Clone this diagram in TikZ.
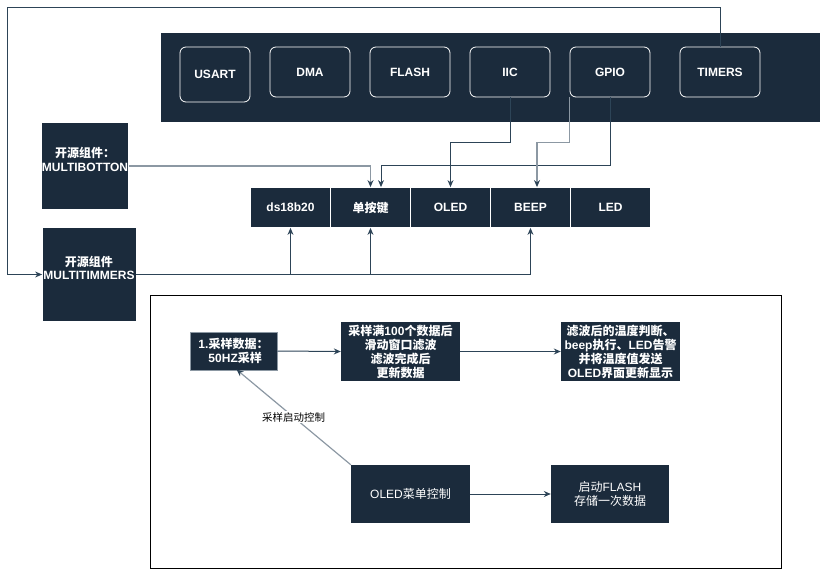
\documentclass[tikz,border=0pt]{standalone}
\usepackage{fontspec}
\setmainfont{Liberation Sans}
\newfontfamily\cjk{Noto Sans CJK SC}
\usetikzlibrary{arrows.meta}
\definecolor{navy}{HTML}{1B2B3C}
\definecolor{lnc}{HTML}{2D4457}
\definecolor{lgray}{HTML}{8C98A3}
\tikzset{
  panel/.style={fill=navy,draw=none,inner sep=0pt},
  rbox/.style={draw=white,fill=navy,rounded corners=6pt,text=white,font=\fontsize{12}{13}\selectfont\bfseries,minimum width=80pt,minimum height=50pt,inner sep=0pt,line width=0.8pt},
  dbox/.style={fill=navy,draw=white,text=white,font=\fontsize{12}{13.5}\selectfont\bfseries,inner sep=0pt,align=center,line width=0.8pt},
  fbox/.style={fill=navy,text=white,font=\fontsize{12}{14}\selectfont\bfseries,inner sep=0pt,align=center},
  conn/.style={draw=lnc,line width=1pt,-{Stealth[length=7pt,width=6pt]}},
  gconn/.style={draw=lgray,line width=1.2pt,-{Stealth[length=7pt,width=6pt,color=lnc]}},
  plain/.style={draw=lnc,line width=1pt}
}
\begin{document}
\begin{tikzpicture}[x=1pt,y=-1pt]
\useasboundingbox (0,0) rectangle (822,570);
% top panel
\node[panel,minimum width=659pt,minimum height=89pt] (panel) at (490.5,77.5) {};
\node[rbox,minimum width=70pt,minimum height=55pt] (usart) at (215,74.5) {USART};
\node[rbox] (dma) at (310,72) {DMA};
\node[rbox] (flash) at (410,72) {FLASH};
\node[rbox] (iic) at (510,72) {IIC};
\node[rbox] (gpio) at (610,72) {GPIO};
\node[rbox] (timers) at (720,72) {TIMERS};
% open source components
\node[dbox,draw=none,minimum width=86pt,minimum height=86pt] (mb) at (85,166) {{\cjk 开源组件：}\\MULTIBOTTON\\ \mbox{}};
\node[dbox,draw=none,minimum width=93pt,minimum height=93pt] (mt) at (89,274.5) {{\cjk 开源组件}\\MULTITIMMERS\\ \mbox{}};
% device row
\node[dbox,minimum width=80pt,minimum height=40pt] (ds) at (290.5,207.5) {ds18b20};
\node[dbox,minimum width=80pt,minimum height=40pt] (key) at (370.5,207.5) {\cjk 单按键};
\node[dbox,minimum width=80pt,minimum height=40pt] (oled) at (450.5,207.5) {OLED};
\node[dbox,minimum width=80pt,minimum height=40pt] (beep) at (530.5,207.5) {BEEP};
\node[dbox,minimum width=80pt,minimum height=40pt] (led) at (610.5,207.5) {LED};
% connectors top
\coordinate (t1) at (720,7);
\coordinate (t2) at (7,7);
\draw[conn] (timers.north) -- (t1) -- (t2) |- (mt.west);
\draw[gconn] (mb.east) -| (key.north);
\draw[conn] (gpio.south) -- ++(0,68) -| ([xshift=10.5pt]key.north);
\draw[conn] (iic.south) -- ++(0,45) -| (oled.north);
\draw[gconn] (gpio.south west) -- ++(0,45) -| ([xshift=6.5pt]beep.north);
\draw[conn] (mt.east) -| (beep.south);
\coordinate (j1) at (ds.south |- mt.east);
\coordinate (j2) at (key.south |- mt.east);
\draw[conn] (j1) -- (ds.south);
\draw[conn] (j2) -- (key.south);
% bottom frame
\node[draw=black,line width=1pt,minimum width=631pt,minimum height=273pt,inner sep=0pt] (frame) at (465.5,431.5) {};
\node[fbox,draw=lgray,line width=1pt,minimum width=87pt,minimum height=38pt] (b1) at (233.5,351) {1.{\cjk 采样数据：}\\\ 50HZ{\cjk 采样}};
\node[fbox,minimum width=119pt,minimum height=59pt] (b2) at (400.5,351.5) {{\cjk 采样满}100{\cjk 个数据后}\\{\cjk 滑动窗口滤波}\\{\cjk 滤波完成后}\\{\cjk 更新数据}};
\node[fbox,minimum width=119pt,minimum height=59pt] (b3) at (620.5,351.5) {{\cjk 滤波后的温度判断、}\\beep{\cjk 执行、}LED{\cjk 告警}\\{\cjk 并将温度值发送}\\OLED{\cjk 界面更新显示}};
\node[fbox,font=\fontsize{12}{14.5}\selectfont,minimum width=119pt,minimum height=58pt] (b4) at (410.5,494) {OLED{\cjk 菜单控制}};
\node[fbox,font=\fontsize{12}{14.5}\selectfont,minimum width=118pt,minimum height=58pt] (b5) at (610,494) {{\cjk 启动}FLASH\\{\cjk 存储一次数据}};
\draw[conn] (b1.east) -- (b2.west);
\draw[conn] (b2.east) -- (b3.west);
\draw[conn] (b4.east) -- (b5.west);
\draw[gconn] (b4.north west) -- node[midway,fill=white,text=black,font=\fontsize{10.5}{12}\selectfont\cjk,inner sep=1pt] (lbl) {采样启动控制} ([xshift=3pt,yshift=1pt]b1.south);
\end{tikzpicture}
\end{document}
